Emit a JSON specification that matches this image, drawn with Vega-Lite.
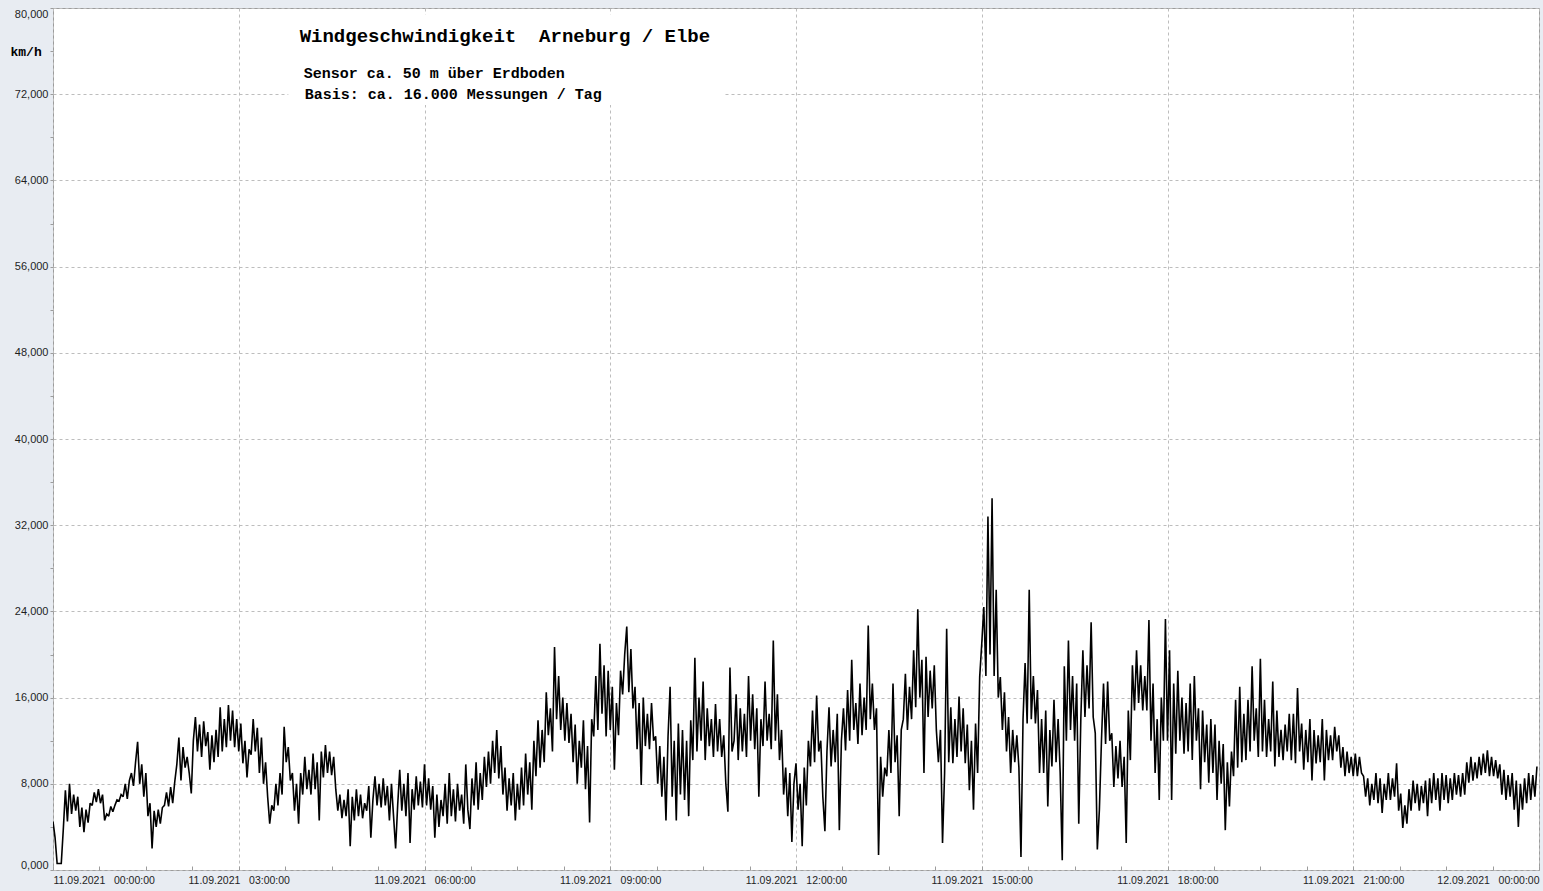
{
"$schema":"https://vega.github.io/schema/vega-lite/v6.json",
"autosize":{"type":"none"},
"width":1486,"height":862,
"padding":{"left":53,"top":8,"right":4,"bottom":21},
"background":"#e8ecf2",
"config":{
"view":{"fill":"#ffffff","stroke":"#9c9c9c","strokeWidth":1},
"axis":{"labelFont":"Liberation Sans","labelColor":"#1e1e1e","domain":false,"tickColor":"#9c9c9c","gridColor":"#bdbdbd","gridDash":[3,3],"gridWidth":1}
},
"datasets":{"wind":[
{"t":"2021-09-11T00:00","v":4.5},{"t":"2021-09-11T00:02","v":3.0},{"t":"2021-09-11T00:04","v":0.6},{"t":"2021-09-11T00:06","v":0.6},{"t":"2021-09-11T00:08","v":0.6},{"t":"2021-09-11T00:10","v":3.8},{"t":"2021-09-11T00:12","v":7.4},{"t":"2021-09-11T00:14","v":4.5},{"t":"2021-09-11T00:16","v":8.0},{"t":"2021-09-11T00:18","v":5.2},{"t":"2021-09-11T00:20","v":7.0},{"t":"2021-09-11T00:22","v":5.5},{"t":"2021-09-11T00:24","v":6.8},{"t":"2021-09-11T00:26","v":4.0},{"t":"2021-09-11T00:28","v":5.8},{"t":"2021-09-11T00:30","v":3.5},{"t":"2021-09-11T00:32","v":5.6},{"t":"2021-09-11T00:34","v":4.4},{"t":"2021-09-11T00:36","v":6.2},{"t":"2021-09-11T00:38","v":6.0},{"t":"2021-09-11T00:40","v":7.2},{"t":"2021-09-11T00:42","v":6.3},{"t":"2021-09-11T00:44","v":7.5},{"t":"2021-09-11T00:46","v":6.2},{"t":"2021-09-11T00:48","v":7.0},{"t":"2021-09-11T00:50","v":4.6},{"t":"2021-09-11T00:52","v":5.2},{"t":"2021-09-11T00:54","v":5.0},{"t":"2021-09-11T00:56","v":5.9},{"t":"2021-09-11T00:58","v":5.4},
{"t":"2021-09-11T01:00","v":6.0},{"t":"2021-09-11T01:02","v":6.5},{"t":"2021-09-11T01:04","v":6.4},{"t":"2021-09-11T01:06","v":7.0},{"t":"2021-09-11T01:08","v":6.8},{"t":"2021-09-11T01:10","v":8.0},{"t":"2021-09-11T01:12","v":6.6},{"t":"2021-09-11T01:14","v":8.3},{"t":"2021-09-11T01:16","v":9.0},{"t":"2021-09-11T01:18","v":7.8},{"t":"2021-09-11T01:20","v":10.0},{"t":"2021-09-11T01:22","v":11.9},{"t":"2021-09-11T01:24","v":8.0},{"t":"2021-09-11T01:26","v":9.8},{"t":"2021-09-11T01:28","v":6.8},{"t":"2021-09-11T01:30","v":9.0},{"t":"2021-09-11T01:32","v":5.0},{"t":"2021-09-11T01:34","v":6.2},{"t":"2021-09-11T01:36","v":2.0},{"t":"2021-09-11T01:38","v":5.5},{"t":"2021-09-11T01:40","v":4.0},{"t":"2021-09-11T01:42","v":5.6},{"t":"2021-09-11T01:44","v":4.3},{"t":"2021-09-11T01:46","v":5.8},{"t":"2021-09-11T01:48","v":6.0},{"t":"2021-09-11T01:50","v":7.2},{"t":"2021-09-11T01:52","v":5.9},{"t":"2021-09-11T01:54","v":7.7},{"t":"2021-09-11T01:56","v":6.2},{"t":"2021-09-11T01:58","v":8.2},
{"t":"2021-09-11T02:00","v":9.8},{"t":"2021-09-11T02:02","v":12.3},{"t":"2021-09-11T02:04","v":8.3},{"t":"2021-09-11T02:06","v":11.4},{"t":"2021-09-11T02:08","v":9.5},{"t":"2021-09-11T02:10","v":10.5},{"t":"2021-09-11T02:12","v":9.0},{"t":"2021-09-11T02:14","v":7.1},{"t":"2021-09-11T02:16","v":12.0},{"t":"2021-09-11T02:18","v":14.2},{"t":"2021-09-11T02:20","v":11.0},{"t":"2021-09-11T02:22","v":13.5},{"t":"2021-09-11T02:24","v":10.5},{"t":"2021-09-11T02:26","v":13.8},{"t":"2021-09-11T02:28","v":11.5},{"t":"2021-09-11T02:30","v":12.8},{"t":"2021-09-11T02:32","v":9.3},{"t":"2021-09-11T02:34","v":12.5},{"t":"2021-09-11T02:36","v":10.0},{"t":"2021-09-11T02:38","v":13.0},{"t":"2021-09-11T02:40","v":10.5},{"t":"2021-09-11T02:42","v":15.1},{"t":"2021-09-11T02:44","v":11.0},{"t":"2021-09-11T02:46","v":14.0},{"t":"2021-09-11T02:48","v":11.4},{"t":"2021-09-11T02:50","v":15.3},{"t":"2021-09-11T02:52","v":12.0},{"t":"2021-09-11T02:54","v":14.8},{"t":"2021-09-11T02:56","v":11.4},{"t":"2021-09-11T02:58","v":14.0},
{"t":"2021-09-11T03:00","v":11.0},{"t":"2021-09-11T03:02","v":13.6},{"t":"2021-09-11T03:04","v":9.9},{"t":"2021-09-11T03:06","v":12.0},{"t":"2021-09-11T03:08","v":8.6},{"t":"2021-09-11T03:10","v":11.2},{"t":"2021-09-11T03:12","v":10.7},{"t":"2021-09-11T03:14","v":14.0},{"t":"2021-09-11T03:16","v":11.0},{"t":"2021-09-11T03:18","v":13.2},{"t":"2021-09-11T03:20","v":9.0},{"t":"2021-09-11T03:22","v":12.3},{"t":"2021-09-11T03:24","v":8.0},{"t":"2021-09-11T03:26","v":10.0},{"t":"2021-09-11T03:28","v":6.8},{"t":"2021-09-11T03:30","v":4.3},{"t":"2021-09-11T03:32","v":6.0},{"t":"2021-09-11T03:34","v":5.5},{"t":"2021-09-11T03:36","v":8.0},{"t":"2021-09-11T03:38","v":6.0},{"t":"2021-09-11T03:40","v":9.0},{"t":"2021-09-11T03:42","v":7.0},{"t":"2021-09-11T03:44","v":13.3},{"t":"2021-09-11T03:46","v":10.0},{"t":"2021-09-11T03:48","v":11.4},{"t":"2021-09-11T03:50","v":8.3},{"t":"2021-09-11T03:52","v":9.0},{"t":"2021-09-11T03:54","v":5.5},{"t":"2021-09-11T03:56","v":8.0},{"t":"2021-09-11T03:58","v":4.3},
{"t":"2021-09-11T04:00","v":9.0},{"t":"2021-09-11T04:02","v":7.0},{"t":"2021-09-11T04:04","v":10.5},{"t":"2021-09-11T04:06","v":7.5},{"t":"2021-09-11T04:08","v":9.3},{"t":"2021-09-11T04:10","v":7.0},{"t":"2021-09-11T04:12","v":10.8},{"t":"2021-09-11T04:14","v":7.5},{"t":"2021-09-11T04:16","v":10.0},{"t":"2021-09-11T04:18","v":4.6},{"t":"2021-09-11T04:20","v":11.0},{"t":"2021-09-11T04:22","v":8.6},{"t":"2021-09-11T04:24","v":11.6},{"t":"2021-09-11T04:26","v":9.0},{"t":"2021-09-11T04:28","v":11.0},{"t":"2021-09-11T04:30","v":8.8},{"t":"2021-09-11T04:32","v":10.5},{"t":"2021-09-11T04:34","v":7.5},{"t":"2021-09-11T04:36","v":5.5},{"t":"2021-09-11T04:38","v":7.0},{"t":"2021-09-11T04:40","v":4.8},{"t":"2021-09-11T04:42","v":6.5},{"t":"2021-09-11T04:44","v":5.0},{"t":"2021-09-11T04:46","v":7.5},{"t":"2021-09-11T04:48","v":2.2},{"t":"2021-09-11T04:50","v":6.8},{"t":"2021-09-11T04:52","v":4.6},{"t":"2021-09-11T04:54","v":7.5},{"t":"2021-09-11T04:56","v":5.0},{"t":"2021-09-11T04:58","v":7.0},
{"t":"2021-09-11T05:00","v":4.8},{"t":"2021-09-11T05:02","v":6.2},{"t":"2021-09-11T05:04","v":5.5},{"t":"2021-09-11T05:06","v":7.8},{"t":"2021-09-11T05:08","v":3.0},{"t":"2021-09-11T05:10","v":6.5},{"t":"2021-09-11T05:12","v":8.7},{"t":"2021-09-11T05:14","v":6.0},{"t":"2021-09-11T05:16","v":8.0},{"t":"2021-09-11T05:18","v":5.8},{"t":"2021-09-11T05:20","v":8.5},{"t":"2021-09-11T05:22","v":6.0},{"t":"2021-09-11T05:24","v":7.8},{"t":"2021-09-11T05:26","v":4.6},{"t":"2021-09-11T05:28","v":8.0},{"t":"2021-09-11T05:30","v":5.0},{"t":"2021-09-11T05:32","v":2.0},{"t":"2021-09-11T05:34","v":6.0},{"t":"2021-09-11T05:36","v":9.3},{"t":"2021-09-11T05:38","v":5.5},{"t":"2021-09-11T05:40","v":8.0},{"t":"2021-09-11T05:42","v":5.0},{"t":"2021-09-11T05:44","v":9.0},{"t":"2021-09-11T05:46","v":2.5},{"t":"2021-09-11T05:48","v":7.5},{"t":"2021-09-11T05:50","v":5.6},{"t":"2021-09-11T05:52","v":8.7},{"t":"2021-09-11T05:54","v":6.0},{"t":"2021-09-11T05:56","v":8.2},{"t":"2021-09-11T05:58","v":5.8},
{"t":"2021-09-11T06:00","v":9.8},{"t":"2021-09-11T06:02","v":6.0},{"t":"2021-09-11T06:04","v":8.5},{"t":"2021-09-11T06:06","v":5.6},{"t":"2021-09-11T06:08","v":7.8},{"t":"2021-09-11T06:10","v":3.0},{"t":"2021-09-11T06:12","v":7.0},{"t":"2021-09-11T06:14","v":4.0},{"t":"2021-09-11T06:16","v":6.5},{"t":"2021-09-11T06:18","v":5.0},{"t":"2021-09-11T06:20","v":8.0},{"t":"2021-09-11T06:22","v":4.3},{"t":"2021-09-11T06:24","v":9.0},{"t":"2021-09-11T06:26","v":5.0},{"t":"2021-09-11T06:28","v":7.5},{"t":"2021-09-11T06:30","v":4.5},{"t":"2021-09-11T06:32","v":8.0},{"t":"2021-09-11T06:34","v":5.5},{"t":"2021-09-11T06:36","v":7.0},{"t":"2021-09-11T06:38","v":4.3},{"t":"2021-09-11T06:40","v":9.8},{"t":"2021-09-11T06:42","v":5.6},{"t":"2021-09-11T06:44","v":3.8},{"t":"2021-09-11T06:46","v":8.5},{"t":"2021-09-11T06:48","v":6.0},{"t":"2021-09-11T06:50","v":10.0},{"t":"2021-09-11T06:52","v":5.6},{"t":"2021-09-11T06:54","v":9.0},{"t":"2021-09-11T06:56","v":6.5},{"t":"2021-09-11T06:58","v":10.5},
{"t":"2021-09-11T07:00","v":7.7},{"t":"2021-09-11T07:02","v":11.0},{"t":"2021-09-11T07:04","v":8.0},{"t":"2021-09-11T07:06","v":12.0},{"t":"2021-09-11T07:08","v":9.0},{"t":"2021-09-11T07:10","v":13.0},{"t":"2021-09-11T07:12","v":8.5},{"t":"2021-09-11T07:14","v":11.5},{"t":"2021-09-11T07:16","v":7.0},{"t":"2021-09-11T07:18","v":9.5},{"t":"2021-09-11T07:20","v":5.5},{"t":"2021-09-11T07:22","v":8.5},{"t":"2021-09-11T07:24","v":6.0},{"t":"2021-09-11T07:26","v":9.0},{"t":"2021-09-11T07:28","v":4.6},{"t":"2021-09-11T07:30","v":8.0},{"t":"2021-09-11T07:32","v":5.6},{"t":"2021-09-11T07:34","v":9.5},{"t":"2021-09-11T07:36","v":6.0},{"t":"2021-09-11T07:38","v":10.8},{"t":"2021-09-11T07:40","v":7.0},{"t":"2021-09-11T07:42","v":10.0},{"t":"2021-09-11T07:44","v":5.6},{"t":"2021-09-11T07:46","v":12.0},{"t":"2021-09-11T07:48","v":8.7},{"t":"2021-09-11T07:50","v":13.9},{"t":"2021-09-11T07:52","v":9.5},{"t":"2021-09-11T07:54","v":13.0},{"t":"2021-09-11T07:56","v":10.0},{"t":"2021-09-11T07:58","v":16.5},
{"t":"2021-09-11T08:00","v":12.5},{"t":"2021-09-11T08:02","v":15.0},{"t":"2021-09-11T08:04","v":11.0},{"t":"2021-09-11T08:06","v":20.7},{"t":"2021-09-11T08:08","v":14.0},{"t":"2021-09-11T08:10","v":18.0},{"t":"2021-09-11T08:12","v":13.0},{"t":"2021-09-11T08:14","v":16.0},{"t":"2021-09-11T08:16","v":12.0},{"t":"2021-09-11T08:18","v":15.5},{"t":"2021-09-11T08:20","v":11.8},{"t":"2021-09-11T08:22","v":14.5},{"t":"2021-09-11T08:24","v":10.0},{"t":"2021-09-11T08:26","v":13.5},{"t":"2021-09-11T08:28","v":8.0},{"t":"2021-09-11T08:30","v":12.0},{"t":"2021-09-11T08:32","v":9.5},{"t":"2021-09-11T08:34","v":13.9},{"t":"2021-09-11T08:36","v":7.5},{"t":"2021-09-11T08:38","v":11.5},{"t":"2021-09-11T08:40","v":4.4},{"t":"2021-09-11T08:42","v":14.0},{"t":"2021-09-11T08:44","v":12.4},{"t":"2021-09-11T08:46","v":18.0},{"t":"2021-09-11T08:48","v":13.0},{"t":"2021-09-11T08:50","v":21.0},{"t":"2021-09-11T08:52","v":14.5},{"t":"2021-09-11T08:54","v":19.0},{"t":"2021-09-11T08:56","v":12.4},{"t":"2021-09-11T08:58","v":18.5},
{"t":"2021-09-11T09:00","v":13.0},{"t":"2021-09-11T09:02","v":17.0},{"t":"2021-09-11T09:04","v":9.3},{"t":"2021-09-11T09:06","v":15.5},{"t":"2021-09-11T09:08","v":12.5},{"t":"2021-09-11T09:10","v":18.5},{"t":"2021-09-11T09:12","v":16.3},{"t":"2021-09-11T09:14","v":20.0},{"t":"2021-09-11T09:16","v":22.6},{"t":"2021-09-11T09:18","v":16.5},{"t":"2021-09-11T09:20","v":20.5},{"t":"2021-09-11T09:22","v":15.0},{"t":"2021-09-11T09:24","v":17.0},{"t":"2021-09-11T09:26","v":11.2},{"t":"2021-09-11T09:28","v":15.5},{"t":"2021-09-11T09:30","v":7.9},{"t":"2021-09-11T09:32","v":16.0},{"t":"2021-09-11T09:34","v":11.5},{"t":"2021-09-11T09:36","v":14.5},{"t":"2021-09-11T09:38","v":11.2},{"t":"2021-09-11T09:40","v":15.5},{"t":"2021-09-11T09:42","v":12.0},{"t":"2021-09-11T09:44","v":12.4},{"t":"2021-09-11T09:46","v":8.0},{"t":"2021-09-11T09:48","v":11.5},{"t":"2021-09-11T09:50","v":6.8},{"t":"2021-09-11T09:52","v":10.5},{"t":"2021-09-11T09:54","v":4.6},{"t":"2021-09-11T09:56","v":12.4},{"t":"2021-09-11T09:58","v":17.0},
{"t":"2021-09-11T10:00","v":6.8},{"t":"2021-09-11T10:02","v":12.0},{"t":"2021-09-11T10:04","v":4.6},{"t":"2021-09-11T10:06","v":13.6},{"t":"2021-09-11T10:08","v":7.0},{"t":"2021-09-11T10:10","v":13.0},{"t":"2021-09-11T10:12","v":6.5},{"t":"2021-09-11T10:14","v":12.0},{"t":"2021-09-11T10:16","v":5.0},{"t":"2021-09-11T10:18","v":13.9},{"t":"2021-09-11T10:20","v":10.2},{"t":"2021-09-11T10:22","v":19.7},{"t":"2021-09-11T10:24","v":11.0},{"t":"2021-09-11T10:26","v":16.0},{"t":"2021-09-11T10:28","v":12.0},{"t":"2021-09-11T10:30","v":17.5},{"t":"2021-09-11T10:32","v":10.2},{"t":"2021-09-11T10:34","v":15.0},{"t":"2021-09-11T10:36","v":11.5},{"t":"2021-09-11T10:38","v":14.0},{"t":"2021-09-11T10:40","v":10.5},{"t":"2021-09-11T10:42","v":15.4},{"t":"2021-09-11T10:44","v":11.0},{"t":"2021-09-11T10:46","v":14.0},{"t":"2021-09-11T10:48","v":10.5},{"t":"2021-09-11T10:50","v":12.5},{"t":"2021-09-11T10:52","v":8.0},{"t":"2021-09-11T10:54","v":5.4},{"t":"2021-09-11T10:56","v":18.8},{"t":"2021-09-11T10:58","v":11.0},
{"t":"2021-09-11T11:00","v":12.0},{"t":"2021-09-11T11:02","v":16.3},{"t":"2021-09-11T11:04","v":10.2},{"t":"2021-09-11T11:06","v":15.0},{"t":"2021-09-11T11:08","v":11.0},{"t":"2021-09-11T11:10","v":14.5},{"t":"2021-09-11T11:12","v":10.5},{"t":"2021-09-11T11:14","v":18.0},{"t":"2021-09-11T11:16","v":12.0},{"t":"2021-09-11T11:18","v":16.3},{"t":"2021-09-11T11:20","v":11.2},{"t":"2021-09-11T11:22","v":15.0},{"t":"2021-09-11T11:24","v":6.8},{"t":"2021-09-11T11:26","v":14.0},{"t":"2021-09-11T11:28","v":11.5},{"t":"2021-09-11T11:30","v":17.5},{"t":"2021-09-11T11:32","v":12.0},{"t":"2021-09-11T11:34","v":14.5},{"t":"2021-09-11T11:36","v":11.2},{"t":"2021-09-11T11:38","v":21.3},{"t":"2021-09-11T11:40","v":12.0},{"t":"2021-09-11T11:42","v":16.3},{"t":"2021-09-11T11:44","v":10.2},{"t":"2021-09-11T11:46","v":13.0},{"t":"2021-09-11T11:48","v":7.0},{"t":"2021-09-11T11:50","v":9.5},{"t":"2021-09-11T11:52","v":5.0},{"t":"2021-09-11T11:54","v":9.0},{"t":"2021-09-11T11:56","v":2.6},{"t":"2021-09-11T11:58","v":8.0},
{"t":"2021-09-11T12:00","v":9.9},{"t":"2021-09-11T12:02","v":5.6},{"t":"2021-09-11T12:04","v":8.0},{"t":"2021-09-11T12:06","v":2.2},{"t":"2021-09-11T12:08","v":9.5},{"t":"2021-09-11T12:10","v":6.0},{"t":"2021-09-11T12:12","v":12.0},{"t":"2021-09-11T12:14","v":9.6},{"t":"2021-09-11T12:16","v":14.8},{"t":"2021-09-11T12:18","v":10.0},{"t":"2021-09-11T12:20","v":16.2},{"t":"2021-09-11T12:22","v":11.0},{"t":"2021-09-11T12:24","v":12.0},{"t":"2021-09-11T12:26","v":6.8},{"t":"2021-09-11T12:28","v":3.6},{"t":"2021-09-11T12:30","v":11.0},{"t":"2021-09-11T12:32","v":15.1},{"t":"2021-09-11T12:34","v":9.6},{"t":"2021-09-11T12:36","v":13.0},{"t":"2021-09-11T12:38","v":10.0},{"t":"2021-09-11T12:40","v":14.5},{"t":"2021-09-11T12:42","v":3.7},{"t":"2021-09-11T12:44","v":12.0},{"t":"2021-09-11T12:46","v":15.0},{"t":"2021-09-11T12:48","v":11.1},{"t":"2021-09-11T12:50","v":16.7},{"t":"2021-09-11T12:52","v":12.0},{"t":"2021-09-11T12:54","v":19.5},{"t":"2021-09-11T12:56","v":13.0},{"t":"2021-09-11T12:58","v":15.5},
{"t":"2021-09-11T13:00","v":11.7},{"t":"2021-09-11T13:02","v":17.3},{"t":"2021-09-11T13:04","v":12.5},{"t":"2021-09-11T13:06","v":16.0},{"t":"2021-09-11T13:08","v":13.0},{"t":"2021-09-11T13:10","v":22.7},{"t":"2021-09-11T13:12","v":14.0},{"t":"2021-09-11T13:14","v":17.3},{"t":"2021-09-11T13:16","v":13.0},{"t":"2021-09-11T13:18","v":15.0},{"t":"2021-09-11T13:20","v":1.4},{"t":"2021-09-11T13:22","v":10.5},{"t":"2021-09-11T13:24","v":6.8},{"t":"2021-09-11T13:26","v":9.5},{"t":"2021-09-11T13:28","v":8.7},{"t":"2021-09-11T13:30","v":13.0},{"t":"2021-09-11T13:32","v":9.0},{"t":"2021-09-11T13:34","v":17.3},{"t":"2021-09-11T13:36","v":10.0},{"t":"2021-09-11T13:38","v":12.5},{"t":"2021-09-11T13:40","v":5.0},{"t":"2021-09-11T13:42","v":13.0},{"t":"2021-09-11T13:44","v":14.0},{"t":"2021-09-11T13:46","v":18.2},{"t":"2021-09-11T13:48","v":13.0},{"t":"2021-09-11T13:50","v":17.0},{"t":"2021-09-11T13:52","v":14.0},{"t":"2021-09-11T13:54","v":20.4},{"t":"2021-09-11T13:56","v":15.1},{"t":"2021-09-11T13:58","v":24.2},
{"t":"2021-09-11T14:00","v":16.0},{"t":"2021-09-11T14:02","v":19.5},{"t":"2021-09-11T14:04","v":9.0},{"t":"2021-09-11T14:06","v":19.8},{"t":"2021-09-11T14:08","v":14.2},{"t":"2021-09-11T14:10","v":18.5},{"t":"2021-09-11T14:12","v":15.0},{"t":"2021-09-11T14:14","v":19.0},{"t":"2021-09-11T14:16","v":13.0},{"t":"2021-09-11T14:18","v":10.0},{"t":"2021-09-11T14:20","v":13.0},{"t":"2021-09-11T14:22","v":2.5},{"t":"2021-09-11T14:24","v":9.0},{"t":"2021-09-11T14:26","v":22.4},{"t":"2021-09-11T14:28","v":10.0},{"t":"2021-09-11T14:30","v":15.1},{"t":"2021-09-11T14:32","v":9.9},{"t":"2021-09-11T14:34","v":14.0},{"t":"2021-09-11T14:36","v":10.5},{"t":"2021-09-11T14:38","v":16.1},{"t":"2021-09-11T14:40","v":11.0},{"t":"2021-09-11T14:42","v":15.0},{"t":"2021-09-11T14:44","v":9.9},{"t":"2021-09-11T14:46","v":13.5},{"t":"2021-09-11T14:48","v":7.4},{"t":"2021-09-11T14:50","v":12.0},{"t":"2021-09-11T14:52","v":5.6},{"t":"2021-09-11T14:54","v":13.6},{"t":"2021-09-11T14:56","v":9.0},{"t":"2021-09-11T14:58","v":17.9},
{"t":"2021-09-11T15:00","v":21.0},{"t":"2021-09-11T15:02","v":24.4},{"t":"2021-09-11T15:04","v":18.0},{"t":"2021-09-11T15:06","v":32.8},{"t":"2021-09-11T15:08","v":20.0},{"t":"2021-09-11T15:10","v":34.5},{"t":"2021-09-11T15:12","v":18.0},{"t":"2021-09-11T15:14","v":26.0},{"t":"2021-09-11T15:16","v":16.0},{"t":"2021-09-11T15:18","v":17.9},{"t":"2021-09-11T15:20","v":13.0},{"t":"2021-09-11T15:22","v":16.5},{"t":"2021-09-11T15:24","v":11.0},{"t":"2021-09-11T15:26","v":14.2},{"t":"2021-09-11T15:28","v":9.0},{"t":"2021-09-11T15:30","v":13.0},{"t":"2021-09-11T15:32","v":10.0},{"t":"2021-09-11T15:34","v":12.5},{"t":"2021-09-11T15:36","v":9.5},{"t":"2021-09-11T15:38","v":1.2},{"t":"2021-09-11T15:40","v":14.0},{"t":"2021-09-11T15:42","v":19.2},{"t":"2021-09-11T15:44","v":13.6},{"t":"2021-09-11T15:46","v":26.0},{"t":"2021-09-11T15:48","v":14.0},{"t":"2021-09-11T15:50","v":18.0},{"t":"2021-09-11T15:52","v":13.6},{"t":"2021-09-11T15:54","v":16.7},{"t":"2021-09-11T15:56","v":9.0},{"t":"2021-09-11T15:58","v":14.0},
{"t":"2021-09-11T16:00","v":9.0},{"t":"2021-09-11T16:02","v":14.8},{"t":"2021-09-11T16:04","v":5.9},{"t":"2021-09-11T16:06","v":13.0},{"t":"2021-09-11T16:08","v":9.6},{"t":"2021-09-11T16:10","v":15.8},{"t":"2021-09-11T16:12","v":10.0},{"t":"2021-09-11T16:14","v":14.0},{"t":"2021-09-11T16:16","v":9.0},{"t":"2021-09-11T16:18","v":0.9},{"t":"2021-09-11T16:20","v":18.9},{"t":"2021-09-11T16:22","v":12.0},{"t":"2021-09-11T16:24","v":21.3},{"t":"2021-09-11T16:26","v":13.0},{"t":"2021-09-11T16:28","v":18.0},{"t":"2021-09-11T16:30","v":12.0},{"t":"2021-09-11T16:32","v":17.3},{"t":"2021-09-11T16:34","v":4.3},{"t":"2021-09-11T16:36","v":14.0},{"t":"2021-09-11T16:38","v":20.4},{"t":"2021-09-11T16:40","v":14.2},{"t":"2021-09-11T16:42","v":19.0},{"t":"2021-09-11T16:44","v":15.0},{"t":"2021-09-11T16:46","v":23.0},{"t":"2021-09-11T16:48","v":14.2},{"t":"2021-09-11T16:50","v":12.7},{"t":"2021-09-11T16:52","v":1.9},{"t":"2021-09-11T16:54","v":5.6},{"t":"2021-09-11T16:56","v":12.0},{"t":"2021-09-11T16:58","v":17.3},
{"t":"2021-09-11T17:00","v":11.7},{"t":"2021-09-11T17:02","v":17.5},{"t":"2021-09-11T17:04","v":12.0},{"t":"2021-09-11T17:06","v":12.7},{"t":"2021-09-11T17:08","v":7.7},{"t":"2021-09-11T17:10","v":11.5},{"t":"2021-09-11T17:12","v":8.5},{"t":"2021-09-11T17:14","v":12.0},{"t":"2021-09-11T17:16","v":7.7},{"t":"2021-09-11T17:18","v":10.5},{"t":"2021-09-11T17:20","v":2.5},{"t":"2021-09-11T17:22","v":14.8},{"t":"2021-09-11T17:24","v":10.2},{"t":"2021-09-11T17:26","v":19.0},{"t":"2021-09-11T17:28","v":14.8},{"t":"2021-09-11T17:30","v":20.4},{"t":"2021-09-11T17:32","v":15.5},{"t":"2021-09-11T17:34","v":19.0},{"t":"2021-09-11T17:36","v":14.8},{"t":"2021-09-11T17:38","v":18.0},{"t":"2021-09-11T17:40","v":14.8},{"t":"2021-09-11T17:42","v":23.2},{"t":"2021-09-11T17:44","v":12.0},{"t":"2021-09-11T17:46","v":17.3},{"t":"2021-09-11T17:48","v":9.0},{"t":"2021-09-11T17:50","v":14.0},{"t":"2021-09-11T17:52","v":6.5},{"t":"2021-09-11T17:54","v":16.0},{"t":"2021-09-11T17:56","v":12.0},{"t":"2021-09-11T17:58","v":23.3},
{"t":"2021-09-11T18:00","v":12.0},{"t":"2021-09-11T18:02","v":20.4},{"t":"2021-09-11T18:04","v":6.5},{"t":"2021-09-11T18:06","v":17.3},{"t":"2021-09-11T18:08","v":10.8},{"t":"2021-09-11T18:10","v":18.5},{"t":"2021-09-11T18:12","v":12.0},{"t":"2021-09-11T18:14","v":16.0},{"t":"2021-09-11T18:16","v":10.8},{"t":"2021-09-11T18:18","v":15.5},{"t":"2021-09-11T18:20","v":11.0},{"t":"2021-09-11T18:22","v":17.3},{"t":"2021-09-11T18:24","v":10.2},{"t":"2021-09-11T18:26","v":18.0},{"t":"2021-09-11T18:28","v":12.0},{"t":"2021-09-11T18:30","v":15.0},{"t":"2021-09-11T18:32","v":7.5},{"t":"2021-09-11T18:34","v":14.8},{"t":"2021-09-11T18:36","v":10.0},{"t":"2021-09-11T18:38","v":13.5},{"t":"2021-09-11T18:40","v":8.1},{"t":"2021-09-11T18:42","v":14.0},{"t":"2021-09-11T18:44","v":9.0},{"t":"2021-09-11T18:46","v":13.5},{"t":"2021-09-11T18:48","v":6.5},{"t":"2021-09-11T18:50","v":12.0},{"t":"2021-09-11T18:52","v":8.0},{"t":"2021-09-11T18:54","v":11.7},{"t":"2021-09-11T18:56","v":3.7},{"t":"2021-09-11T18:58","v":10.0},
{"t":"2021-09-11T19:00","v":5.9},{"t":"2021-09-11T19:02","v":11.0},{"t":"2021-09-11T19:04","v":8.7},{"t":"2021-09-11T19:06","v":15.8},{"t":"2021-09-11T19:08","v":9.5},{"t":"2021-09-11T19:10","v":17.0},{"t":"2021-09-11T19:12","v":10.0},{"t":"2021-09-11T19:14","v":14.5},{"t":"2021-09-11T19:16","v":10.2},{"t":"2021-09-11T19:18","v":15.8},{"t":"2021-09-11T19:20","v":11.0},{"t":"2021-09-11T19:22","v":18.9},{"t":"2021-09-11T19:24","v":12.0},{"t":"2021-09-11T19:26","v":15.0},{"t":"2021-09-11T19:28","v":10.5},{"t":"2021-09-11T19:30","v":19.6},{"t":"2021-09-11T19:32","v":11.0},{"t":"2021-09-11T19:34","v":15.8},{"t":"2021-09-11T19:36","v":10.5},{"t":"2021-09-11T19:38","v":14.0},{"t":"2021-09-11T19:40","v":11.0},{"t":"2021-09-11T19:42","v":17.5},{"t":"2021-09-11T19:44","v":9.6},{"t":"2021-09-11T19:46","v":14.8},{"t":"2021-09-11T19:48","v":10.5},{"t":"2021-09-11T19:50","v":13.0},{"t":"2021-09-11T19:52","v":10.2},{"t":"2021-09-11T19:54","v":13.5},{"t":"2021-09-11T19:56","v":11.0},{"t":"2021-09-11T19:58","v":14.5},
{"t":"2021-09-11T20:00","v":10.2},{"t":"2021-09-11T20:02","v":14.5},{"t":"2021-09-11T20:04","v":9.9},{"t":"2021-09-11T20:06","v":16.9},{"t":"2021-09-11T20:08","v":11.0},{"t":"2021-09-11T20:10","v":13.6},{"t":"2021-09-11T20:12","v":9.3},{"t":"2021-09-11T20:14","v":13.0},{"t":"2021-09-11T20:16","v":10.0},{"t":"2021-09-11T20:18","v":14.0},{"t":"2021-09-11T20:20","v":8.3},{"t":"2021-09-11T20:22","v":13.0},{"t":"2021-09-11T20:24","v":9.9},{"t":"2021-09-11T20:26","v":12.5},{"t":"2021-09-11T20:28","v":10.0},{"t":"2021-09-11T20:30","v":14.0},{"t":"2021-09-11T20:32","v":8.3},{"t":"2021-09-11T20:34","v":13.0},{"t":"2021-09-11T20:36","v":10.2},{"t":"2021-09-11T20:38","v":12.5},{"t":"2021-09-11T20:40","v":10.2},{"t":"2021-09-11T20:42","v":13.3},{"t":"2021-09-11T20:44","v":11.0},{"t":"2021-09-11T20:46","v":12.5},{"t":"2021-09-11T20:48","v":9.5},{"t":"2021-09-11T20:50","v":11.4},{"t":"2021-09-11T20:52","v":8.7},{"t":"2021-09-11T20:54","v":11.0},{"t":"2021-09-11T20:56","v":9.0},{"t":"2021-09-11T20:58","v":10.5},
{"t":"2021-09-11T21:00","v":8.7},{"t":"2021-09-11T21:02","v":10.8},{"t":"2021-09-11T21:04","v":8.7},{"t":"2021-09-11T21:06","v":10.5},{"t":"2021-09-11T21:08","v":9.0},{"t":"2021-09-11T21:10","v":8.7},{"t":"2021-09-11T21:12","v":6.8},{"t":"2021-09-11T21:14","v":8.5},{"t":"2021-09-11T21:16","v":6.0},{"t":"2021-09-11T21:18","v":8.0},{"t":"2021-09-11T21:20","v":6.5},{"t":"2021-09-11T21:22","v":9.0},{"t":"2021-09-11T21:24","v":6.2},{"t":"2021-09-11T21:26","v":8.5},{"t":"2021-09-11T21:28","v":5.3},{"t":"2021-09-11T21:30","v":8.0},{"t":"2021-09-11T21:32","v":6.5},{"t":"2021-09-11T21:34","v":9.0},{"t":"2021-09-11T21:36","v":6.5},{"t":"2021-09-11T21:38","v":8.5},{"t":"2021-09-11T21:40","v":6.8},{"t":"2021-09-11T21:42","v":9.9},{"t":"2021-09-11T21:44","v":5.5},{"t":"2021-09-11T21:46","v":7.1},{"t":"2021-09-11T21:48","v":3.9},{"t":"2021-09-11T21:50","v":6.0},{"t":"2021-09-11T21:52","v":4.3},{"t":"2021-09-11T21:54","v":7.5},{"t":"2021-09-11T21:56","v":5.5},{"t":"2021-09-11T21:58","v":8.3},
{"t":"2021-09-11T22:00","v":6.2},{"t":"2021-09-11T22:02","v":8.0},{"t":"2021-09-11T22:04","v":5.5},{"t":"2021-09-11T22:06","v":7.8},{"t":"2021-09-11T22:08","v":6.2},{"t":"2021-09-11T22:10","v":8.3},{"t":"2021-09-11T22:12","v":5.0},{"t":"2021-09-11T22:14","v":8.5},{"t":"2021-09-11T22:16","v":6.2},{"t":"2021-09-11T22:18","v":9.0},{"t":"2021-09-11T22:20","v":6.5},{"t":"2021-09-11T22:22","v":8.5},{"t":"2021-09-11T22:24","v":5.5},{"t":"2021-09-11T22:26","v":9.0},{"t":"2021-09-11T22:28","v":6.5},{"t":"2021-09-11T22:30","v":8.8},{"t":"2021-09-11T22:32","v":6.2},{"t":"2021-09-11T22:34","v":8.5},{"t":"2021-09-11T22:36","v":6.5},{"t":"2021-09-11T22:38","v":9.0},{"t":"2021-09-11T22:40","v":7.0},{"t":"2021-09-11T22:42","v":8.8},{"t":"2021-09-11T22:44","v":6.8},{"t":"2021-09-11T22:46","v":9.0},{"t":"2021-09-11T22:48","v":7.0},{"t":"2021-09-11T22:50","v":10.0},{"t":"2021-09-11T22:52","v":8.1},{"t":"2021-09-11T22:54","v":10.5},{"t":"2021-09-11T22:56","v":8.3},{"t":"2021-09-11T22:58","v":10.0},
{"t":"2021-09-11T23:00","v":8.5},{"t":"2021-09-11T23:02","v":10.5},{"t":"2021-09-11T23:04","v":8.8},{"t":"2021-09-11T23:06","v":10.8},{"t":"2021-09-11T23:08","v":9.0},{"t":"2021-09-11T23:10","v":11.1},{"t":"2021-09-11T23:12","v":8.7},{"t":"2021-09-11T23:14","v":10.5},{"t":"2021-09-11T23:16","v":8.7},{"t":"2021-09-11T23:18","v":10.2},{"t":"2021-09-11T23:20","v":8.5},{"t":"2021-09-11T23:22","v":9.8},{"t":"2021-09-11T23:24","v":7.0},{"t":"2021-09-11T23:26","v":9.3},{"t":"2021-09-11T23:28","v":6.5},{"t":"2021-09-11T23:30","v":8.8},{"t":"2021-09-11T23:32","v":6.8},{"t":"2021-09-11T23:34","v":9.0},{"t":"2021-09-11T23:36","v":5.6},{"t":"2021-09-11T23:38","v":8.3},{"t":"2021-09-11T23:40","v":4.0},{"t":"2021-09-11T23:42","v":8.0},{"t":"2021-09-11T23:44","v":5.6},{"t":"2021-09-11T23:46","v":8.5},{"t":"2021-09-11T23:48","v":6.2},{"t":"2021-09-11T23:50","v":9.0},{"t":"2021-09-11T23:52","v":6.5},{"t":"2021-09-11T23:54","v":8.8},{"t":"2021-09-11T23:56","v":6.8},{"t":"2021-09-11T23:58","v":9.6}
]},
"layer":[
{"data":{"name":"wind"},"mark":{"type":"line","color":"#000000","strokeWidth":1.6,"strokeJoin":"miter","strokeMiterLimit":2,"clip":true},
"encoding":{
"x":{"field":"t","type":"temporal","scale":{"domain":[{"year":2021,"month":9,"date":11,"hours":0},{"year":2021,"month":9,"date":12,"hours":0}]},
"axis":{"title":null,"values":[
{"year":2021,"month":9,"date":11,"hours":0,"minutes":0},{"year":2021,"month":9,"date":11,"hours":0,"minutes":45},{"year":2021,"month":9,"date":11,"hours":1,"minutes":30},{"year":2021,"month":9,"date":11,"hours":2,"minutes":15},
{"year":2021,"month":9,"date":11,"hours":3,"minutes":0},{"year":2021,"month":9,"date":11,"hours":3,"minutes":45},{"year":2021,"month":9,"date":11,"hours":4,"minutes":30},{"year":2021,"month":9,"date":11,"hours":5,"minutes":15},
{"year":2021,"month":9,"date":11,"hours":6,"minutes":0},{"year":2021,"month":9,"date":11,"hours":6,"minutes":45},{"year":2021,"month":9,"date":11,"hours":7,"minutes":30},{"year":2021,"month":9,"date":11,"hours":8,"minutes":15},
{"year":2021,"month":9,"date":11,"hours":9,"minutes":0},{"year":2021,"month":9,"date":11,"hours":9,"minutes":45},{"year":2021,"month":9,"date":11,"hours":10,"minutes":30},{"year":2021,"month":9,"date":11,"hours":11,"minutes":15},
{"year":2021,"month":9,"date":11,"hours":12,"minutes":0},{"year":2021,"month":9,"date":11,"hours":12,"minutes":45},{"year":2021,"month":9,"date":11,"hours":13,"minutes":30},{"year":2021,"month":9,"date":11,"hours":14,"minutes":15},
{"year":2021,"month":9,"date":11,"hours":15,"minutes":0},{"year":2021,"month":9,"date":11,"hours":15,"minutes":45},{"year":2021,"month":9,"date":11,"hours":16,"minutes":30},{"year":2021,"month":9,"date":11,"hours":17,"minutes":15},
{"year":2021,"month":9,"date":11,"hours":18,"minutes":0},{"year":2021,"month":9,"date":11,"hours":18,"minutes":45},{"year":2021,"month":9,"date":11,"hours":19,"minutes":30},{"year":2021,"month":9,"date":11,"hours":20,"minutes":15},
{"year":2021,"month":9,"date":11,"hours":21,"minutes":0},{"year":2021,"month":9,"date":11,"hours":21,"minutes":45},{"year":2021,"month":9,"date":11,"hours":22,"minutes":30},{"year":2021,"month":9,"date":11,"hours":23,"minutes":15},
{"year":2021,"month":9,"date":12,"hours":0,"minutes":0}],
"labelExpr":"(hours(datum.value) % 3 === 0 && minutes(datum.value) === 0) ? timeFormat(datum.value, '%d.%m.%Y\u00a0\u00a0\u00a0%H:%M:%S') : ''",
"labelFlush":true,"labelOverlap":false,"labelBound":false,"labelFontSize":10.5,"labelPadding":9,"tickSize":-4,
"gridOpacity":{"condition":{"test":"hours(datum.value) % 3 === 0 && minutes(datum.value) === 0","value":1},"value":0}}},
"y":{"field":"v","type":"quantitative","scale":{"domain":[0,80],"nice":false,"zero":true},
"axis":{"values":[0,2,4,6,8,10,12,14,16,18,20,22,24,26,28,30,32,34,36,38,40,42,44,46,48,50,52,54,56,58,60,62,64,66,68,70,72,74,76,78,80],
"labelExpr":"datum.value % 8 === 0 ? replace(format(datum.value, '.3f'), '.', ',') : ''",
"labelFlush":true,"labelOverlap":false,"labelFontSize":11,"labelPadding":2,"tickSize":3,
"gridOpacity":{"condition":{"test":"datum.value % 8 === 0","value":1},"value":0},
"title":"km/h","titleAngle":0,"titleX":-43,"titleY":43,"titleAlign":"left","titleBaseline":"middle","titleFont":"Courier New, Liberation Mono, monospace","titleFontWeight":"bold","titleFontSize":13,"titleColor":"#000000"}}
}},
{"data":{"values":[{}]},"mark":{"type":"rect","fill":"#ffffff"},
"encoding":{"x":{"datum":{"year":2021,"month":9,"date":11,"hours":3,"minutes":48},"type":"temporal"},"x2":{"datum":{"year":2021,"month":9,"date":11,"hours":10,"minutes":51}},"y":{"datum":71.0,"type":"quantitative"},"y2":{"datum":79.4}}},
{"data":{"values":[{}]},"mark":{"type":"text","align":"left","baseline":"middle","font":"Courier New, Liberation Mono, monospace","fontWeight":"bold","fontSize":19,"color":"#000000"},
"encoding":{"x":{"datum":{"year":2021,"month":9,"date":11,"hours":3,"minutes":59},"type":"temporal"},"y":{"datum":77.4,"type":"quantitative"},"text":{"value":"Windgeschwindigkeit\u00a0 Arneburg / Elbe"}}},
{"data":{"values":[{}]},"mark":{"type":"text","align":"left","baseline":"middle","font":"Courier New, Liberation Mono, monospace","fontWeight":"bold","fontSize":15,"color":"#000000"},
"encoding":{"x":{"datum":{"year":2021,"month":9,"date":11,"hours":4,"minutes":3},"type":"temporal"},"y":{"datum":74.0,"type":"quantitative"},"text":{"value":"Sensor ca. 50 m über Erdboden"}}},
{"data":{"values":[{}]},"mark":{"type":"text","align":"left","baseline":"middle","font":"Courier New, Liberation Mono, monospace","fontWeight":"bold","fontSize":15,"color":"#000000"},
"encoding":{"x":{"datum":{"year":2021,"month":9,"date":11,"hours":4,"minutes":4},"type":"temporal"},"y":{"datum":72.0,"type":"quantitative"},"text":{"value":"Basis: ca. 16.000 Messungen / Tag"}}}
]
}
